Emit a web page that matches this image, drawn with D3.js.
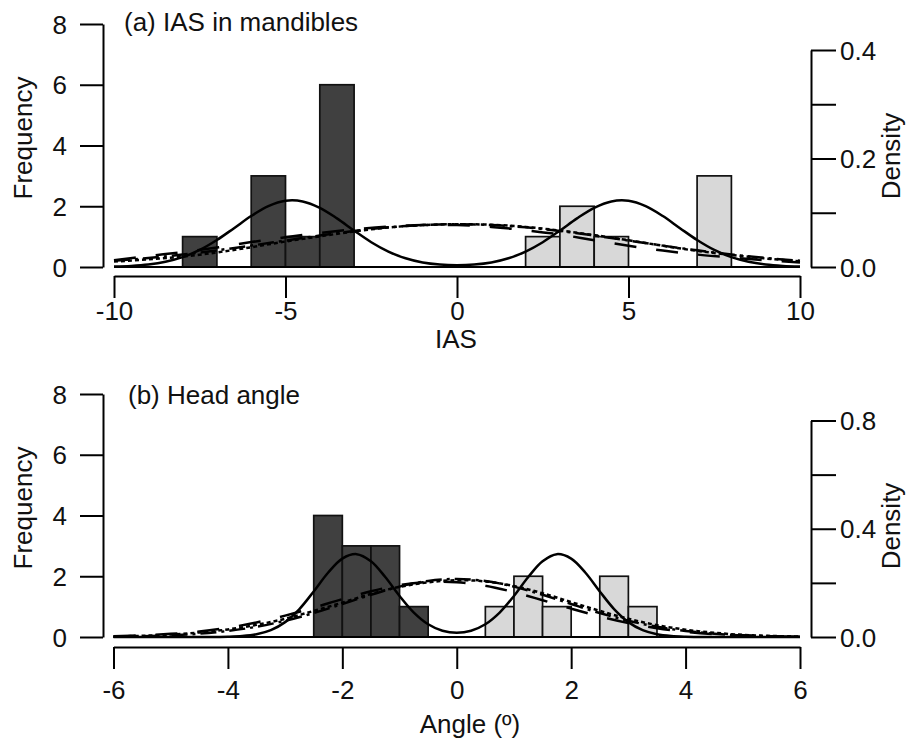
<!DOCTYPE html>
<html>
<head>
<meta charset="utf-8">
<script src="https://cdn.jsdelivr.net/npm/d3@7"></script>
<style>
  body { margin: 0; background: #fff; }
  svg text { font-family: "Liberation Sans", Arial, sans-serif; font-size: 26px; fill: #111; }
  .axis path, .axis line { stroke: #000; stroke-width: 2; }
</style>
</head>
<body>
<div class="chart"></div>
<script>
// PANEL A DATA: IAS in mandibles //

const iasBinWidth = 1;
const iasDarkStart = [-8, -6, -5, -4];
const iasDarkCount = [1, 3, 1, 6];
const iasLightStart = [2, 3, 4, 7];
const iasLightCount = [1, 2, 1, 3];

const iasTicks = [-10, -5, 0, 5, 10];
const iasDensityTicks = [0, 0.1, 0.2, 0.3, 0.4];

// Fitted curves (in frequency units)
const iasCurveX = [-10, -9, -8, -7, -6, -5, -4, -3, -2, -1, 0, 1, 2, 3, 4, 5, 6, 7, 8, 9, 10];
const iasDotDash = [0.205, 0.295, 0.41, 0.548, 0.704, 0.87, 1.035, 1.185, 1.305, 1.383, 1.41,
  1.383, 1.305, 1.185, 1.035, 0.87, 0.704, 0.548, 0.41, 0.295, 0.205];
const iasLongDash = [0.22, 0.36, 0.49, 0.64, 0.82, 0.98, 1.12, 1.24, 1.33, 1.38, 1.38,
  1.32, 1.21, 1.07, 0.88, 0.7, 0.54, 0.41, 0.31, 0.22, 0.15];
const iasDotted = [0.18, 0.25, 0.34, 0.48, 0.65, 0.84, 1.01, 1.17, 1.3, 1.38, 1.41,
  1.39, 1.32, 1.2, 1.05, 0.88, 0.7, 0.53, 0.4, 0.28, 0.19];

const iasSolidX = [-10, -9.5, -9, -8.5, -8, -7.5, -7, -6.5, -6, -5.5, -5, -4.5, -4, -3.5, -3, -2.5,
  -2, -1.5, -1, -0.5, 0, 0.5, 1, 1.5, 2, 2.5, 3, 3.5, 4, 4.5, 5, 5.5, 6, 6.5, 7, 7.5, 8, 8.5, 9, 9.5, 10];
const iasSolid = [0.014, 0.035, 0.081, 0.17, 0.323, 0.562, 0.888, 1.279, 1.678, 2.004, 2.18, 2.159,
  1.948, 1.601, 1.198, 0.816, 0.507, 0.286, 0.147, 0.08, 0.06, 0.08, 0.147, 0.286, 0.507, 0.816,
  1.198, 1.601, 1.948, 2.159, 2.18, 2.004, 1.678, 1.279, 0.888, 0.562, 0.323, 0.17, 0.081, 0.035, 0.014];

// PANEL B DATA: Head angle //

const headBinWidth = 0.5;
const headDarkStart = [-2.5, -2, -1.5, -1];
const headDarkCount = [4, 3, 3, 1];
const headLightStart = [0.5, 1, 1.5, 2.5, 3];
const headLightCount = [1, 2, 1, 2, 1];

const headTicks = [-6, -4, -2, 0, 2, 4, 6];
const headDensityTicks = [0, 0.2, 0.4, 0.6, 0.8];

const headCurveX = [-6, -5.5, -5, -4.5, -4, -3.5, -3, -2.5, -2, -1.5, -1, -0.5, 0,
  0.5, 1, 1.5, 2, 2.5, 3, 3.5, 4, 4.5, 5, 5.5, 6];
const headDotDash = [0.012, 0.026, 0.056, 0.109, 0.199, 0.337, 0.535, 0.789, 1.085, 1.389, 1.658,
  1.844, 1.91, 1.844, 1.658, 1.389, 1.085, 0.789, 0.535, 0.337, 0.199, 0.109, 0.056, 0.026, 0.012];
const headLongDash = [0.027, 0.055, 0.103, 0.184, 0.306, 0.479, 0.703, 0.966, 1.245, 1.505, 1.705,
  1.812, 1.805, 1.686, 1.476, 1.212, 0.933, 0.674, 0.456, 0.289, 0.172, 0.096, 0.05, 0.025, 0.011];
const headDotted = [0.02, 0.04, 0.08, 0.15, 0.25, 0.4, 0.6, 0.86, 1.13, 1.42, 1.65, 1.8, 1.87,
  1.83, 1.68, 1.44, 1.15, 0.86, 0.6, 0.39, 0.24, 0.14, 0.07, 0.035, 0.015];

const headSolidX = [-6, -5, -4.5, -4.25, -4, -3.75, -3.5, -3.25, -3, -2.75, -2.5, -2.25, -2, -1.75,
  -1.5, -1.25, -1, -0.75, -0.5, -0.25, 0, 0.25, 0.5, 0.75, 1, 1.25, 1.5, 1.75, 2, 2.25, 2.5, 2.75,
  3, 3.25, 3.5, 3.75, 4, 4.25, 4.5, 5, 6];
const headSolid = [0, 0, 0, 0.002, 0.009, 0.031, 0.09, 0.225, 0.49, 0.921, 1.5, 2.115, 2.581, 2.727,
  2.494, 1.974, 1.352, 0.804, 0.419, 0.206, 0.14, 0.206, 0.419, 0.804, 1.352, 1.974, 2.494, 2.727,
  2.581, 2.115, 1.5, 0.921, 0.49, 0.225, 0.09, 0.031, 0.009, 0.002, 0, 0, 0];

const freqTicks = [0, 2, 4, 6, 8];

// Chart Size
const w = 907;
const h = 739;

const svg = d3
  .select(".chart")
  .append("svg")
  .attr("width", w)
  .attr("height", h);

const zip = (xs, ys) => xs.map((x, i) => [x, ys[i]]);

function drawPanel(p) {
  // Scales
  const x = d3.scaleLinear().domain(p.xDomain).range([p.xLeft, 800]);
  const y = d3.scaleLinear().domain([0, 8]).range([p.base, p.top]);
  const yDens = d3.scaleLinear().domain(p.densDomain).range([p.base, p.densTop]);

  // Bars
  const bars = [
    ...p.darkStart.map((s, i) => ({ s, n: p.darkCount[i], fill: "#404040" })),
    ...p.lightStart.map((s, i) => ({ s, n: p.lightCount[i], fill: "#d8d8d8" })),
  ];
  svg
    .append("g")
    .selectAll("rect")
    .data(bars)
    .enter()
    .append("rect")
    .attr("x", (d) => x(d.s))
    .attr("y", (d) => y(d.n))
    .attr("width", (d) => x(d.s + p.binWidth) - x(d.s))
    .attr("height", (d) => y(0) - y(d.n))
    .attr("fill", (d) => d.fill)
    .attr("stroke", "#111")
    .attr("stroke-width", 1.7);

  // Zero line under the curves
  svg
    .append("line")
    .attr("x1", x(p.xDomain[0]))
    .attr("x2", x(p.xDomain[1]))
    .attr("y1", y(0))
    .attr("y2", y(0))
    .attr("stroke", "#000")
    .attr("stroke-width", 2);

  // Curves
  const line = d3
    .line()
    .x((d) => x(d[0]))
    .y((d) => y(d[1]))
    .curve(d3.curveCatmullRom.alpha(0.5));

  const curves = [
    { pts: zip(p.curveX, p.dotDash), dash: "16,5,3,5" },
    { pts: zip(p.curveX, p.longDash), dash: "22,20" },
    { pts: zip(p.curveX, p.dotted), dash: "4,3" },
    { pts: zip(p.solidX, p.solid), dash: null },
  ];
  svg
    .append("g")
    .selectAll("path")
    .data(curves)
    .enter()
    .append("path")
    .attr("d", (d) => line(d.pts))
    .attr("fill", "none")
    .attr("stroke", "#000")
    .attr("stroke-width", 2.5)
    .attr("stroke-dasharray", (d) => d.dash);

  // Axes
  svg
    .append("g")
    .attr("class", "axis")
    .attr("transform", `translate(0, ${p.axisY})`)
    .call(
      d3.axisBottom(x).tickValues(p.xTicks).tickSize(22).tickSizeOuter(0)
        .tickPadding(p.xPad).tickFormat((d) => String(d))
    );

  svg
    .append("g")
    .attr("class", "axis")
    .attr("transform", "translate(103, 0)")
    .call(
      d3.axisLeft(y).tickValues(freqTicks).tickSize(23).tickSizeOuter(0)
        .tickPadding(13).tickFormat((d) => String(d))
    );

  svg
    .append("g")
    .attr("class", "axis")
    .attr("transform", "translate(811, 0)")
    .call(
      d3.axisRight(yDens).tickValues(p.densTicks).tickSize(25).tickSizeOuter(0)
        .tickPadding(4).tickFormat((d, i) => (i % 2 === 0 ? d.toFixed(1) : ""))
    );

  svg.selectAll(".axis text").each(function () {
    const t = d3.select(this);
    if (t.attr("x") !== null && +t.attr("x") !== 0) t.attr("dy", "0.35em");
    else t.attr("dy", "0.71em");
  });

  // Labels
  svg.append("text").text(p.title).attr("x", p.titleX).attr("y", p.titleY);

  svg
    .append("text")
    .text(p.xLabel)
    .attr("text-anchor", "middle")
    .attr("x", p.xLabelX)
    .attr("y", p.xLabelY);

  svg
    .append("text")
    .text("Frequency")
    .attr("text-anchor", "middle")
    .attr("transform", `translate(32, ${p.freqLabelY}) rotate(-90)`);

  svg
    .append("text")
    .text("Density")
    .attr("text-anchor", "middle")
    .attr("transform", `translate(900, ${p.densLabelY}) rotate(-90)`);
}

drawPanel({
  xDomain: [-10, 10], xLeft: 114, base: 267, top: 24,
  densDomain: [0, 0.4], densTop: 50, densTicks: iasDensityTicks,
  darkStart: iasDarkStart, darkCount: iasDarkCount,
  lightStart: iasLightStart, lightCount: iasLightCount, binWidth: iasBinWidth,
  curveX: iasCurveX, dotDash: iasDotDash, longDash: iasLongDash, dotted: iasDotted,
  solidX: iasSolidX, solid: iasSolid,
  xTicks: iasTicks, axisY: 276, xPad: 4,
  title: "(a) IAS in mandibles", titleX: 124, titleY: 31,
  xLabel: "IAS", xLabelX: 456, xLabelY: 348,
  freqLabelY: 138, densLabelY: 156,
});

drawPanel({
  xDomain: [-6, 6], xLeft: 113.5, base: 637, top: 394,
  densDomain: [0, 0.8], densTop: 420.5, densTicks: headDensityTicks,
  darkStart: headDarkStart, darkCount: headDarkCount,
  lightStart: headLightStart, lightCount: headLightCount, binWidth: headBinWidth,
  curveX: headCurveX, dotDash: headDotDash, longDash: headLongDash, dotted: headDotted,
  solidX: headSolidX, solid: headSolid,
  xTicks: headTicks, axisY: 647, xPad: 12,
  title: "(b) Head angle", titleX: 128, titleY: 404,
  xLabel: "Angle (º)", xLabelX: 470, xLabelY: 733,
  freqLabelY: 508, densLabelY: 526,
});
</script>
</body>
</html>
